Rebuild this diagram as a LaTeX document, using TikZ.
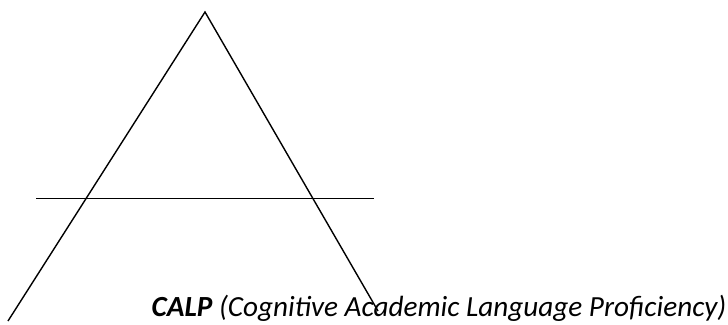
\documentclass[tikz,border=0pt]{standalone}
\usepackage{fontspec}
\setmainfont{Carlito}
\begin{document}
\begin{tikzpicture}[x=1pt,y=-1pt,line width=1.4pt,
  lbl/.style={inner sep=0pt,anchor=base west,font=\fontsize{29.2}{34}\selectfont}]
\useasboundingbox (0,0) rectangle (728,324);
\clip (0,0) rectangle (728,324);
\coordinate (apex) at (205,12);
\coordinate (lend) at (8,321);
\coordinate (rend) at (378,311);
\coordinate (hl) at (36,198.5);
\coordinate (hr) at (374,198.5);
\draw (lend) -- (apex) -- (rend);
\draw (hl) -- (hr);
\node[lbl] (calp) at (151,316.5) {\textbf{\textit{CALP}} \textit{(Cognitive Academic Language Proficiency)}};
\node[lbl] (top) at (323,-3) {\textit{)}};
\end{tikzpicture}
\end{document}
